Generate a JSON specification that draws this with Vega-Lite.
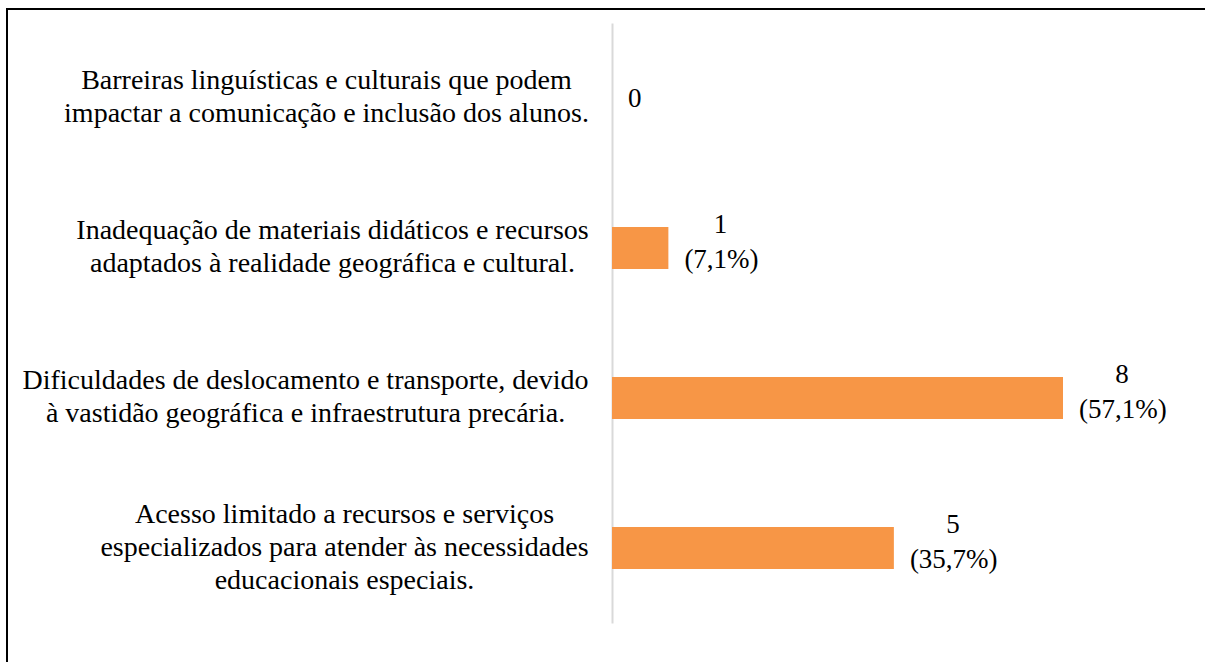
{
  "$schema": "https://vega.github.io/schema/vega-lite/v6.json",
  "width": 1200,
  "height": 660,
  "autosize": {"type": "none"},
  "padding": {"left": 7, "top": 9, "right": 0, "bottom": 0},
  "background": "white",
  "config": {"view": {"stroke": "#000000", "strokeWidth": 2}, "font": "Liberation Serif"},
  "data": {"values": [
    {"cat": "Barreiras linguísticas e culturais que podem|impactar a comunicação e inclusão dos alunos.", "n": 0, "pct": ""},
    {"cat": "Inadequação de materiais didáticos e recursos|adaptados à realidade geográfica e cultural.", "n": 1, "pct": "(7,1%)"},
    {"cat": "Dificuldades de deslocamento e transporte, devido|à vastidão geográfica e infraestrutura precária.", "n": 8, "pct": "(57,1%)"},
    {"cat": "Acesso limitado a recursos e serviços|especializados para atender às necessidades|educacionais especiais.", "n": 5, "pct": "(35,7%)"}
  ]},
  "encoding": {
    "y": {
      "field": "cat", "type": "nominal", "sort": null,
      "scale": {"range": [14, 614], "paddingInner": 0.72, "paddingOuter": 0.36},
      "axis": {
        "title": null, "offset": -605, "ticks": false, "grid": false,
        "domainColor": "#D9D9D9", "domainWidth": 2,
        "labelFont": "Liberation Serif", "labelFontSize": 28, "labelColor": "#000000",
        "labelLimit": 0, "labelAlign": "center", "labelBaseline": "middle", "labelLineHeight": 33,
        "labelExpr": "split(datum.label, '|')",
        "labelOffset": {"condition": [
          {"test": "datum.value == 'Acesso limitado a recursos e serviços|especializados para atender às necessidades|educacionais especiais.'", "value": -33}
        ], "value": -17},
        "labelPadding": {"condition": [
          {"test": "datum.value == 'Barreiras linguísticas e culturais que podem|impactar a comunicação e inclusão dos alunos.'", "value": 286},
          {"test": "datum.value == 'Inadequação de materiais didáticos e recursos|adaptados à realidade geográfica e cultural.'", "value": 280},
          {"test": "datum.value == 'Dificuldades de deslocamento e transporte, devido|à vastidão geográfica e infraestrutura precária.'", "value": 307},
          {"test": "datum.value == 'Acesso limitado a recursos e serviços|especializados para atender às necessidades|educacionais especiais.'", "value": 268}
        ], "value": 24}
      }
    },
    "x": {"field": "n", "type": "quantitative", "scale": {"domain": [0, 10], "range": [605, 1168.75]}, "axis": null}
  },
  "layer": [
    {"mark": {"type": "bar", "color": "#F79646"}},
    {"transform": [{"filter": "datum.n == 0"}],
     "mark": {"type": "text", "align": "left", "baseline": "middle", "dx": 16, "dy": 1, "fontSize": 27, "color": "#000000"},
     "encoding": {"text": {"field": "n"}}},
    {"transform": [{"filter": "datum.n > 0"}],
     "mark": {"type": "text", "align": "left", "baseline": "alphabetic", "dx": 16, "dy": 20, "fontSize": 27, "color": "#000000"},
     "encoding": {"text": {"field": "pct"}}},
    {"transform": [{"filter": "datum.n == 1"}],
     "mark": {"type": "text", "align": "center", "baseline": "alphabetic", "dx": 52, "dy": -15, "fontSize": 27, "color": "#000000"},
     "encoding": {"text": {"field": "n"}}},
    {"transform": [{"filter": "datum.n > 1"}],
     "mark": {"type": "text", "align": "center", "baseline": "alphabetic", "dx": 59, "dy": -15, "fontSize": 27, "color": "#000000"},
     "encoding": {"text": {"field": "n"}}}
  ]
}
